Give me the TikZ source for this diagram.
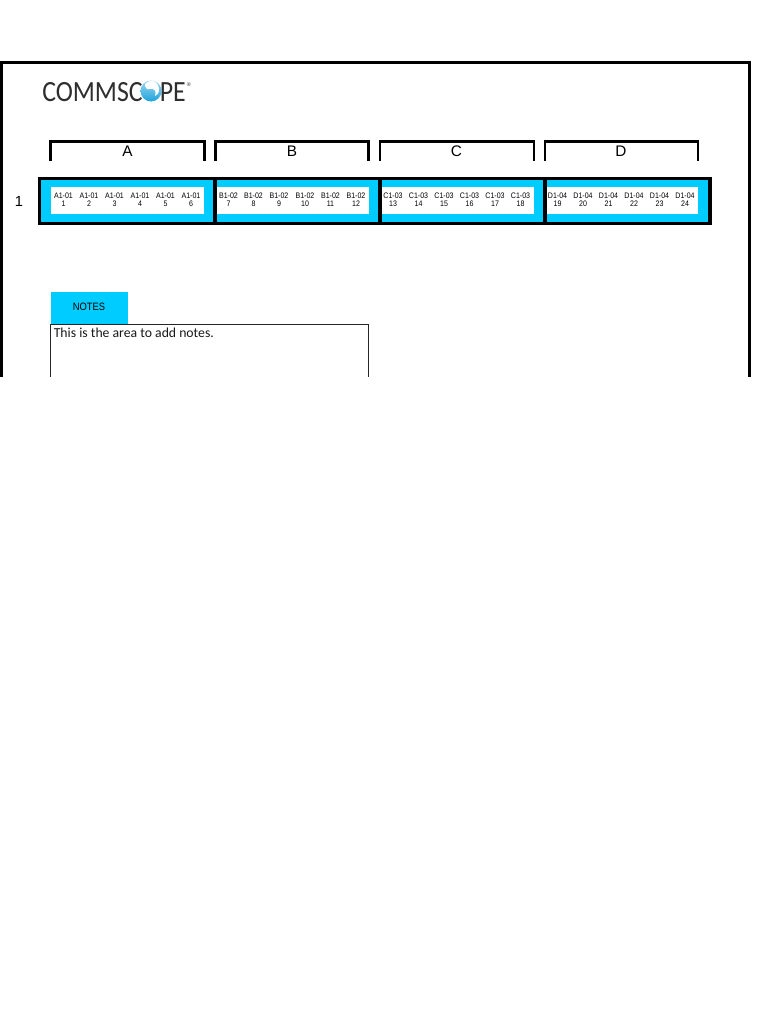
\documentclass[tikz,border=0pt]{standalone}
\usepackage{fontspec}
\setmainfont{Liberation Sans}
\newfontfamily\carlito{Carlito}
\newfontfamily\logofont[FakeStretch=0.88]{Carlito}
\newfontfamily\narrowsans[FakeStretch=0.88]{Liberation Sans}
\definecolor{cyanfill}{HTML}{00CCFF}
\definecolor{logogray}{HTML}{2E2E2E}
\definecolor{logoblue}{HTML}{1FA3DC}
\tikzset{
  frameline/.style={draw=black,line width=2.25pt},
  panelline/.style={draw=black,line width=2.4pt},
  bracketline/.style={draw=black,line width=2.2pt},
  portlabel/.style={font=\narrowsans\fontsize{6}{6}\selectfont,align=center,inner sep=0pt,text=black},
  bracketlabel/.style={font=\fontsize{11.5}{12}\selectfont,inner sep=0pt,text=black},
}
\begin{document}
\begin{tikzpicture}[x=0.75pt,y=-0.75pt]
\useasboundingbox (0,0) rectangle (768,1024);
\fill[white] (0,0) rectangle (768,1024);
% outer frame, cut at the page break
\draw[frameline] (1,377) -- (1,62.5) -- (749.5,62.5) -- (749.5,377);
% logo
\node[anchor=west,inner sep=0pt,text=logogray,font=\logofont\fontsize{22}{24}\selectfont] (logo) at (42,92)
  {COMMSC\textcolor{cyanfill}{O}PE};
\node[anchor=west,inner sep=0pt,text=logogray,font=\fontsize{4}{4}\selectfont] (reg) at (186.5,84.5) {®};
\shade[top color=logoblue!45,bottom color=logoblue] (151,91) circle (10.5);
\fill[white] (151,85) circle (3.5);
\fill[white] (145,84) .. controls (149,80) and (155,79) .. (158,85)
  .. controls (160,90) and (159,94) .. (155,96)
  .. controls (157,91) and (154,88) .. (150,89)
  .. controls (147,90) and (145,88) .. (145,84) -- cycle;
% row panel
\fill[cyanfill] (39.5,178.5) rectangle (710,223.5);
\fill[white] (51,187) rectangle (204,214);
\fill[white] (216.5,187) rectangle (368.5,214);
\fill[white] (381,187) rectangle (533.5,214);
\fill[white] (546,187) rectangle (698,214);
\draw[panelline] (39.5,178.5) rectangle (710,223.5);
\foreach \x in {215,380,545}{\draw[panelline] (\x,178.5) -- (\x,223.5);}
\node[font=\fontsize{11}{12}\selectfont,inner sep=0pt,text=black] (rowlabel) at (19,201) {1};
% brackets
\foreach \n/\a/\b/\c in {A/50.5/204.5/127.5,B/215.5/368.5/292,C/380/534/456.5,D/545/698/621}{
  \draw[bracketline] (\a,161) -- (\a,141.5) -- (\b,141.5) -- (\b,161);
  \node[bracketlabel] (label\n) at (\c,151) {\n};
}
% port labels
\foreach \i/\x/\t in {
 1/63.5/A1-01,2/89/A1-01,3/114.5/A1-01,4/140/A1-01,5/165.5/A1-01,6/191/A1-01,
 7/228.5/B1-02,8/253.5/B1-02,9/279/B1-02,10/305/B1-02,11/330.5/B1-02,12/356/B1-02,
 13/393/C1-03,14/418.5/C1-03,15/444/C1-03,16/469.5/C1-03,17/495/C1-03,18/520.5/C1-03,
 19/557.5/D1-04,20/583/D1-04,21/608.5/D1-04,22/634/D1-04,23/659.5/D1-04,24/685/D1-04}{
  \node[portlabel] (port\i) at (\x,200) {\t\\\i};
}
% notes
\fill[cyanfill] (51,292) rectangle (127.5,324);
\node[inner sep=0pt,font=\narrowsans\fontsize{8}{8}\selectfont,text=black] (notestitle) at (89,306.5) {NOTES};
\draw[black!85,line width=0.6pt] (50.7,377) -- (50.7,324) -- (368.7,324) -- (368.7,377);
\node[anchor=west,inner sep=0pt,font=\carlito\fontsize{10.3}{12}\selectfont,text=black!90] (notestext) at (53.5,333) {This is the area to add notes.};
\end{tikzpicture}
\end{document}
